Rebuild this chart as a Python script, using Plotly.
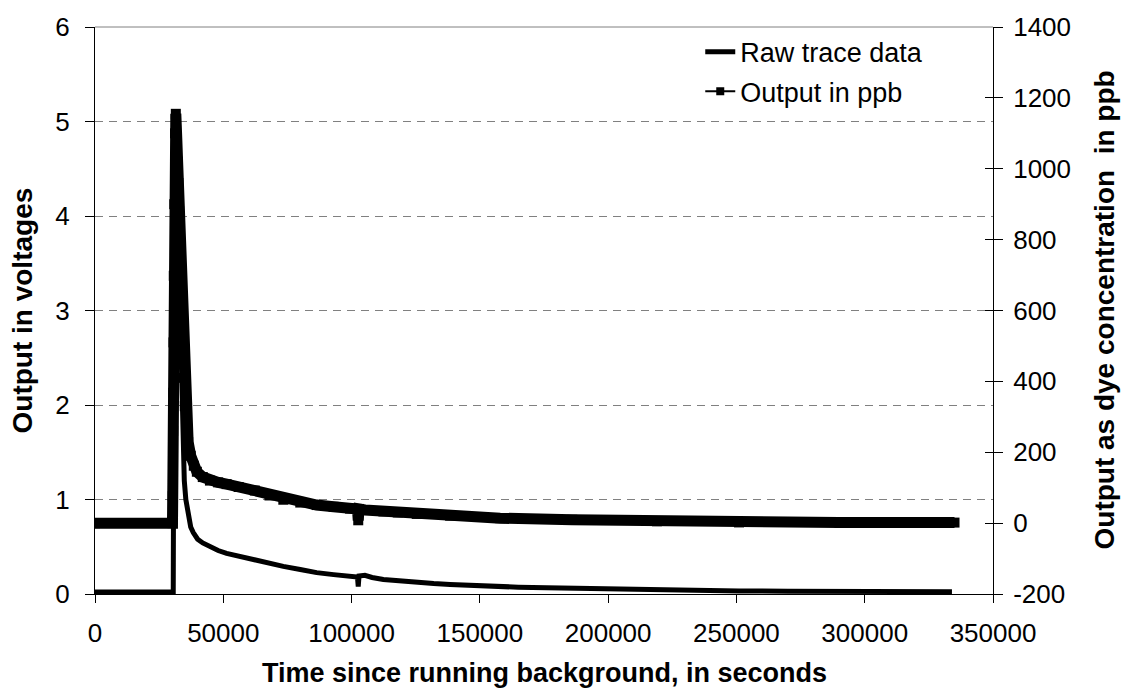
import plotly.graph_objects as go

# Raw fluorometer trace (left axis, volts)
raw_time = [0, 30500, 30700, 30900, 31200, 31600, 32200, 32700, 33200, 33700,
            34200, 34800, 35400, 36400, 37300, 38300, 40000, 42000, 44800, 48000,
            51300, 56000, 60400, 64300, 68000, 73400, 80000, 86400, 93000, 99400,
            102300, 102600, 102900, 105200, 108000, 112400, 118000, 125400, 132000,
            138400, 146000, 154000, 165000, 176000, 186000, 200000, 215000, 230000,
            251000, 270000, 290000, 310000, 334000]
raw_volts = [0.02, 0.02, 2.0, 4.0, 5.1, 4.7, 4.0, 3.3, 2.6, 2.0,
             1.55, 1.2, 1.0, 0.81, 0.71, 0.65, 0.58, 0.54, 0.50, 0.46,
             0.43, 0.40, 0.366, 0.345, 0.32, 0.292, 0.26, 0.226, 0.205, 0.188,
             0.18, 0.078, 0.19, 0.198, 0.175, 0.153, 0.138, 0.122, 0.11,
             0.10, 0.09, 0.084, 0.072, 0.065, 0.06, 0.05, 0.042, 0.036,
             0.031, 0.03, 0.028, 0.027, 0.025]

# Converted dye concentration (right axis, ppb)
ppb_time = [0, 30200, 30300, 30400, 30450, 30500, 30600, 30700, 30900, 31200,
            31500, 31900, 32200, 32500, 32800, 33100, 33500, 33900, 34400, 35000,
            35600, 36300, 37300, 38500, 39700, 42000, 44800, 48000, 51300, 56000,
            62300, 68000, 73400, 80000, 86400, 93000, 99400, 102300, 102600, 102900,
            105200, 112400, 118000, 125400, 138400, 157900, 186000, 219000, 251000,
            290000, 335000]
ppb_values = [0, 0, 76, 226, 260, 368, 510, 698, 900, 1100,
              1155, 1080, 1020, 960, 880, 760, 640, 510, 410, 330,
              270, 229, 190, 162, 145, 130, 120, 115, 110, 102,
              92, 78, 66, 58, 51, 46, 41, 40, 8, 40,
              37, 33, 30, 26, 21, 14, 9.4, 5.2, 2,
              1.5, 1.5]

x_ticks = [0, 50000, 100000, 150000, 200000, 250000, 300000, 350000]
x_labels = ["0", "50000", "100000", "150000", "200000", "250000", "300000", "350000"]
volt_ticks = [0, 1, 2, 3, 4, 5, 6]
volt_labels = ["0", "1", "2", "3", "4", "5", "6"]
ppb_ticks = [-200, 0, 200, 400, 600, 800, 1000, 1200, 1400]
ppb_labels = ["-200", "0", "200", "400", "600", "800", "1000", "1200", "1400"]

FONT = "Liberation Sans, Arial, sans-serif"
TICK_SIZE = 26
LEGEND_SIZE = 27
X_TITLE_SIZE = 27
Y_TITLE_SIZE = 28

fig = go.Figure()

# ppb series: dense markers form a thick band
fig.add_trace(go.Scatter(
    x=ppb_time, y=ppb_values, yaxis="y2", mode="lines+markers",
    line=dict(color="black", width=11),
    marker=dict(symbol="square", size=10, color="black"),
    showlegend=False, hoverinfo="skip"))

fig.add_trace(go.Scatter(
    x=raw_time, y=raw_volts, mode="lines",
    line=dict(color="black", width=5),
    name="Raw trace data", legend="legend"))

# legend sample for the ppb series
fig.add_trace(go.Scatter(
    x=[None], y=[None], yaxis="y2", mode="lines+markers",
    line=dict(color="black", width=2),
    marker=dict(symbol="square", size=8, color="black"),
    name="Output in ppb", legend="legend2"))

# carrier for the inward half of the right-hand ticks
fig.add_trace(go.Scatter(x=[None], y=[None], yaxis="y3", showlegend=False,
                         hoverinfo="skip"))

fig.update_layout(
    width=1129, height=695,
    margin=dict(l=95, r=136, t=20, b=101, pad=0),
    paper_bgcolor="white", plot_bgcolor="white",
    font=dict(family=FONT, color="black", size=TICK_SIZE),
    xaxis=dict(
        range=[0, 350000], tickvals=x_ticks, ticktext=x_labels,
        ticks="outside", ticklen=8, tickcolor="black", tickwidth=1,
        showline=True, linecolor="black", linewidth=1,
        showgrid=False, zeroline=False, ticklabelstandoff=8,
        tickfont=dict(size=TICK_SIZE, family=FONT),
    ),
    yaxis=dict(
        range=[0, 6], tickvals=volt_ticks, ticktext=volt_labels,
        ticks="outside", ticklen=9, tickcolor="black", tickwidth=1,
        showline=True, linecolor="black", linewidth=1,
        showgrid=True, gridcolor="#808080", gridwidth=1, griddash="8px,6px",
        zeroline=False, ticklabelstandoff=10,
        tickfont=dict(size=TICK_SIZE, family=FONT),
    ),
    yaxis2=dict(
        range=[-200, 1400], tickvals=ppb_ticks, ticktext=ppb_labels,
        overlaying="y", side="right", anchor="x",
        ticks="outside", ticklen=9, tickcolor="black", tickwidth=1,
        showline=True, linecolor="black", linewidth=1,
        showgrid=False, zeroline=False, ticklabelstandoff=5,
        tickfont=dict(size=TICK_SIZE, family=FONT),
    ),
    yaxis3=dict(
        range=[-200, 1400], tickvals=ppb_ticks,
        overlaying="y", side="right", anchor="x",
        ticks="inside", ticklen=8, tickcolor="black", tickwidth=1,
        showticklabels=False, showline=False, showgrid=False, zeroline=False,
    ),
    legend=dict(
        x=0.674, y=0.9556, xanchor="left", yanchor="middle",
        bgcolor="rgba(0,0,0,0)", borderwidth=0,
        font=dict(size=LEGEND_SIZE, family=FONT, color="black"),
    ),
    legend2=dict(
        x=0.674, y=0.886, xanchor="left", yanchor="middle",
        bgcolor="rgba(0,0,0,0)", borderwidth=0,
        font=dict(size=LEGEND_SIZE, family=FONT, color="black"),
    ),
    shapes=[dict(type="line", xref="paper", yref="paper", x0=0, x1=1, y0=1, y1=1,
                 line=dict(color="#808080", width=1))],
    annotations=[
        dict(text="<b>Time since running background, in seconds</b>",
             xref="paper", yref="paper", x=0.5, y=-80 / 574.5,
             xanchor="center", yanchor="middle", showarrow=False,
             font=dict(size=X_TITLE_SIZE, family=FONT, color="black")),
        dict(text="<b>Output in voltages</b>",
             xref="paper", yref="paper", x=-73 / 898, y=0.5,
             xanchor="center", yanchor="middle", showarrow=False, textangle=-90,
             font=dict(size=Y_TITLE_SIZE, family=FONT, color="black")),
        dict(text="<b>Output as dye concentration  in ppb</b>",
             xref="paper", yref="paper", x=1 + 111 / 898, y=0.5,
             xanchor="center", yanchor="middle", showarrow=False, textangle=-90,
             font=dict(size=Y_TITLE_SIZE, family=FONT, color="black")),
    ],
)

fig.write_html("out.html")
